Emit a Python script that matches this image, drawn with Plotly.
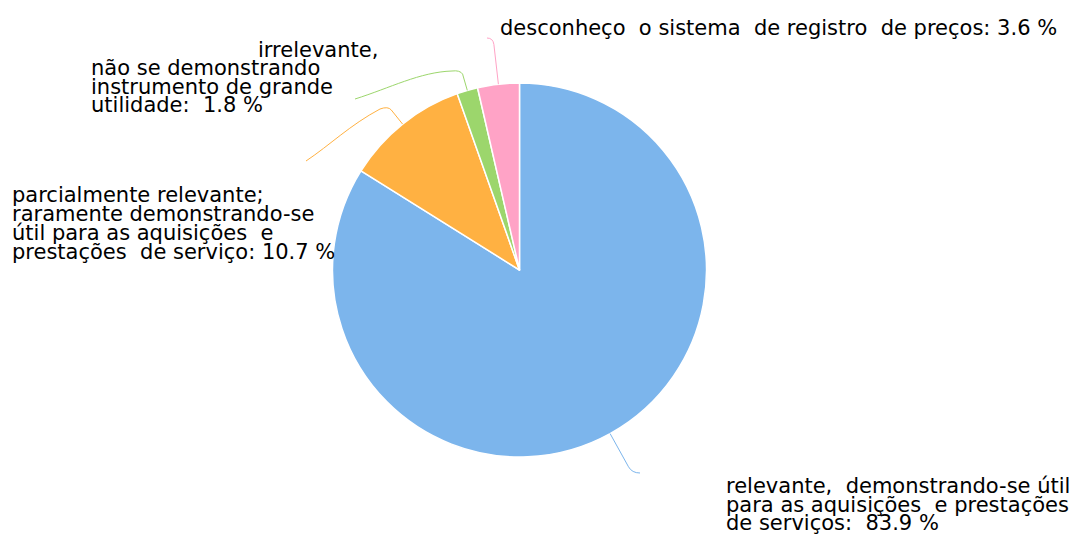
import math
import plotly.graph_objects as go

labels = [
    "relevante,  demonstrando-se útil para as aquisições  e prestações  de serviços",
    "parcialmente relevante; raramente demonstrando-se útil para as aquisições  e prestações  de serviço",
    "irrelevante, não se demonstrando instrumento de grande utilidade",
    "desconheço  o sistema  de registro  de preços",
]
values = [83.9, 10.7, 1.8, 3.6]
colors = ["#7CB5EC", "#FFB142", "#9CD66C", "#FFA3C6"]

# label text broken into lines, last line gets the percentage
label_lines = [
    ["relevante,  demonstrando-se útil", "para as aquisições  e prestações", "de serviços:  "],
    ["parcialmente relevante;", "raramente demonstrando-se", "útil para as aquisições  e", "prestações  de serviço: "],
    ["irrelevante,", "não se demonstrando", "instrumento de grande", "utilidade:  "],
    ["desconheço  o sistema  de registro  de preços: "],
]

W, H = 1083, 534
cx, cy, r = 519.5, 270, 187
FONT = dict(family="DejaVu Sans", size=21, color="#000000")

# label placement in pixels, one entry per line
label_pos = [
    dict(x=[724, 724, 724], y=[486, 505, 523]),
    dict(x=[10, 10, 10, 10], y=[195, 214, 233, 252]),
    dict(x=[256, 89, 89, 89], y=[50, 68, 87, 105]),
    dict(x=[498], y=[28]),
]
# connector: radial run-out, then curve points
connectors = [
    dict(out=38, rest="Q 632 473 640 473"),
    dict(out=18, rest="Q 388 106 380 109 C 350 125 330 145 306 161"),
    dict(out=17, rest="Q 460 70 452 71 C 420 72 390 88 355 99"),
    dict(out=40, rest="Q 493 38 487 38"),
]


def nb(s):
    return s.replace("  ", "\u00a0 ")


fig = go.Figure(go.Pie(
    values=values, labels=labels, sort=False, direction="clockwise",
    marker=dict(colors=colors, line=dict(color="white", width=1.5)),
    textinfo="none", hoverinfo="label+percent", showlegend=False,
    domain=dict(x=[(cx - r) / W, (cx + r) / W], y=[(H - cy - r) / H, (H - cy + r) / H]),
))

total = sum(values)
cum = 0
for i, v in enumerate(values):
    th = 2 * math.pi * (cum + v / 2) / total
    cum += v
    ux, uy = math.sin(th), -math.cos(th)
    x0, y0 = cx + r * ux, cy + r * uy
    c = connectors[i]
    x1, y1 = x0 + c["out"] * ux, y0 + c["out"] * uy
    fig.add_shape(type="path", xref="x", yref="y",
                  path=f"M {x0:.1f} {y0:.1f} L {x1:.1f} {y1:.1f} {c['rest']}",
                  line=dict(color=colors[i], width=1))
    lines = list(label_lines[i])
    lines[-1] = lines[-1] + f"{v} %"
    p = label_pos[i]
    for j, t in enumerate(lines):
        fig.add_annotation(x=p["x"][j], y=p["y"][j], xref="x", yref="y", text=nb(t),
                           showarrow=False, xanchor="left", yanchor="middle", font=FONT)

fig.update_layout(
    width=W, height=H, margin=dict(l=0, r=0, t=0, b=0),
    paper_bgcolor="white", plot_bgcolor="white",
    xaxis=dict(range=[0, W], visible=False, fixedrange=True),
    yaxis=dict(range=[H, 0], visible=False, fixedrange=True),
)
fig.write_html("out.html", config=dict(displayModeBar=False),
               post_script="document.body.style.margin='0';document.body.style.overflow='hidden';")
